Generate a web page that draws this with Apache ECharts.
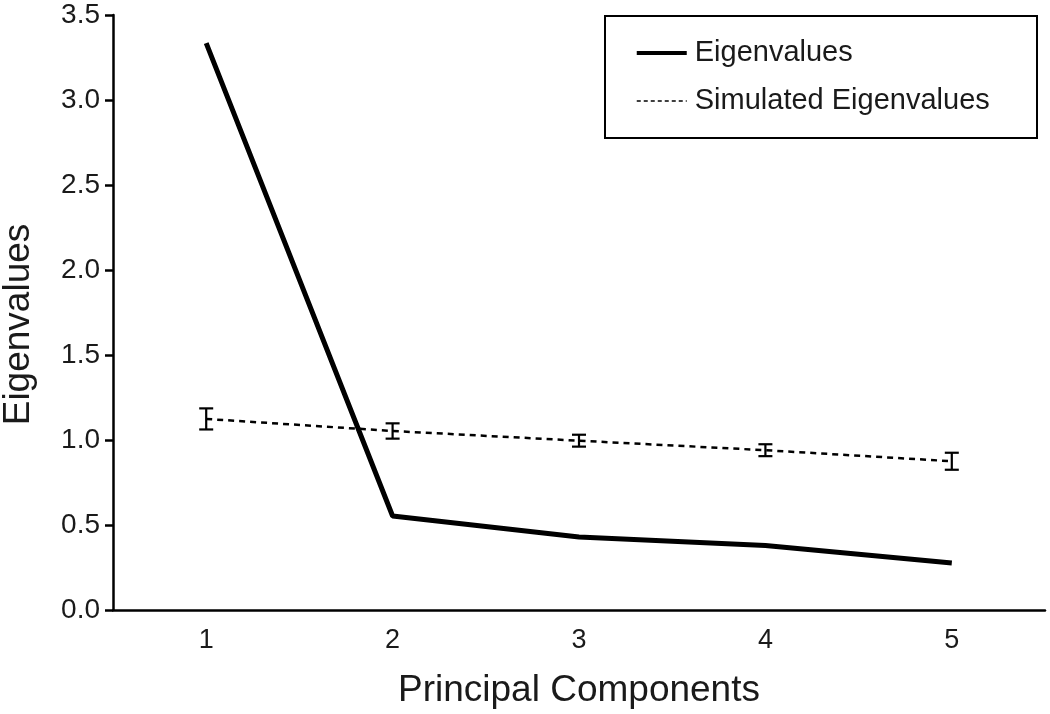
<!DOCTYPE html>
<html>
<head>
<meta charset="utf-8">
<script src="https://cdn.jsdelivr.net/npm/echarts@6/dist/echarts.min.js"></script>
<style>html,body{margin:0;padding:0;background:#fff}#c{width:1050px;height:714px}</style>
</head>
<body>
<div id="c"></div>
<script>
var categories = ['1', '2', '3', '4', '5'];
var eigenvalues = [3.335, 0.553, 0.43, 0.38, 0.277];
var simulated = [1.124, 1.053, 0.996, 0.94, 0.875];
var simErr = [0.062, 0.045, 0.035, 0.035, 0.05];
var yTicks = [0, 0.5, 1.0, 1.5, 2.0, 2.5, 3.0, 3.5];

var FONT = 'Liberation Sans, Arial, sans-serif';
var TXT = '#1a1a1a';
var chart = echarts.init(document.getElementById('c'), null, {renderer: 'canvas'});

var errData = categories.map(function (c, i) {
  return [i, simulated[i] - simErr[i], simulated[i] + simErr[i]];
});

chart.setOption({
  animation: false,
  backgroundColor: '#fff',
  grid: {left: 113, top: 15, right: 5, bottom: 104, containLabel: false, outerBoundsMode: 'none'},
  graphic: [{
    type: 'rect', z: 100,
    shape: {x: 605, y: 16, width: 432, height: 122},
    style: {fill: 'none', stroke: '#000', lineWidth: 2}
  }],
  legend: {
    orient: 'vertical', left: 631, top: 32,
    itemWidth: 50, itemHeight: 14, itemGap: 16,
    textStyle: {fontFamily: FONT, fontSize: 29, color: TXT, lineHeight: 32, padding: [0, 0, 0, 3]},
    data: [
      {name: 'Eigenvalues', icon: 'path://M0,0L50,0L50,4L0,4Z', itemStyle: {color: '#000'}},
      {name: 'Simulated Eigenvalues', itemStyle: {opacity: 0}, lineStyle: {width: 1.5, type: [4, 3], color: '#000'}}
    ],
    selectedMode: false
  },
  xAxis: {
    type: 'category', data: categories, boundaryGap: true,
    name: 'Principal Components', nameLocation: 'middle', nameGap: 62,
    nameTextStyle: {fontFamily: FONT, fontSize: 37, color: TXT},
    axisLine: {lineStyle: {color: '#000', width: 2.5}},
    axisTick: {alignWithLabel: true, length: 8, lineStyle: {color: '#000', width: 2.5}},
    axisLabel: {fontFamily: FONT, fontSize: 27, color: TXT, margin: 17},
    splitLine: {show: false}
  },
  yAxis: {
    type: 'value', min: 0, max: 3.5, interval: 0.5,
    name: 'Eigenvalues', nameLocation: 'middle', nameGap: 76,
    nameTextStyle: {fontFamily: FONT, fontSize: 37, color: TXT, padding: [0, 24, 0, 0]},
    axisLine: {show: true, lineStyle: {color: '#000', width: 2.5}},
    axisTick: {show: true, length: 8, lineStyle: {color: '#000', width: 2.5}},
    axisLabel: {fontFamily: FONT, fontSize: 28, color: TXT, margin: 13,
      formatter: function (v) { return v.toFixed(1); }},
    splitLine: {show: false}
  },
  series: [
    {
      name: 'Eigenvalues', type: 'line', data: eigenvalues,
      symbol: 'none', lineStyle: {color: '#000', width: 5}, itemStyle: {color: '#000'}, z: 3
    },
    {
      name: 'Simulated Eigenvalues', type: 'line', data: simulated,
      symbol: 'none', lineStyle: {color: '#000', width: 2.5, type: [6, 5]}, itemStyle: {color: '#000'}, z: 2
    },
    {
      type: 'custom', data: errData, z: 4,
      renderItem: function (params, api) {
        var x = api.value(0);
        var lo = api.coord([x, api.value(1)]);
        var hi = api.coord([x, api.value(2)]);
        var hw = 7;
        var st = {stroke: '#000', lineWidth: 2.2, fill: 'none'};
        return {
          type: 'group',
          children: [
            {type: 'line', shape: {x1: lo[0], y1: lo[1], x2: hi[0], y2: hi[1]}, style: st},
            {type: 'line', shape: {x1: lo[0] - hw, y1: lo[1], x2: lo[0] + hw, y2: lo[1]}, style: st},
            {type: 'line', shape: {x1: hi[0] - hw, y1: hi[1], x2: hi[0] + hw, y2: hi[1]}, style: st}
          ]
        };
      }
    }
  ]
});
</script>
</body>
</html>
